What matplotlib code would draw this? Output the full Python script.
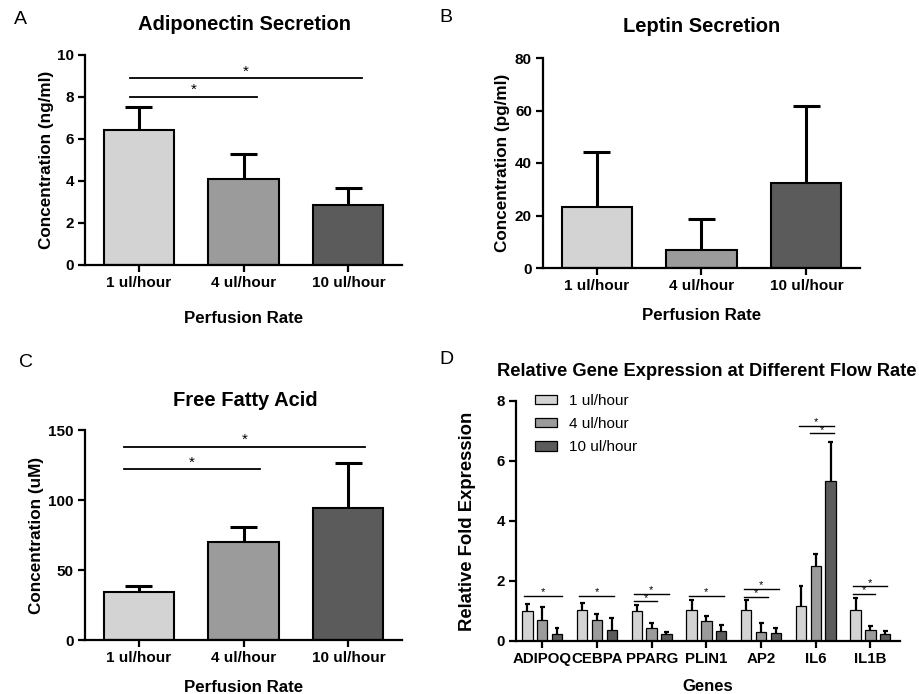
import numpy as np
import matplotlib
matplotlib.use('Agg')
import matplotlib.pyplot as plt

plt.rcParams['font.family'] = ['Liberation Sans', 'DejaVu Sans']

# ---- data ----
rates = ["1 ul/hour", "4 ul/hour", "10 ul/hour"]
colors = ["#d3d3d3", "#9b9b9b", "#5b5b5b"]

adipo_mean = [6.43, 4.08, 2.86]
adipo_err = [1.08, 1.19, 0.79]

leptin_mean = [23.1, 7.0, 32.5]
leptin_err = [21.1, 11.5, 29.4]

ffa_mean = [34.5, 70.2, 94.0]
ffa_err = [4.1, 10.3, 32.7]

genes = ["ADIPOQ", "CEBPA", "PPARG", "PLIN1", "AP2", "IL6", "IL1B"]
gene_1 = [1.00, 1.02, 1.00, 1.02, 1.02, 1.16, 1.02]
gene_1_err = [0.22, 0.25, 0.19, 0.36, 0.34, 0.68, 0.43]
gene_4 = [0.69, 0.69, 0.43, 0.66, 0.30, 2.50, 0.38]
gene_4_err = [0.44, 0.22, 0.17, 0.17, 0.29, 0.39, 0.12]
gene_10 = [0.22, 0.38, 0.22, 0.32, 0.28, 5.34, 0.24]
gene_10_err = [0.21, 0.40, 0.08, 0.20, 0.17, 1.30, 0.08]

# significance brackets: (x0, x1, y)
adipo_sig = [(-0.08, 1.13, 8.02), (-0.08, 2.13, 8.89)]
ffa_sig = [(-0.14, 1.16, 121.9), (-0.14, 2.16, 138.0)]
# gene panel: (gene index, start offset, end offset, y)
gene_sig = [(0, -0.33, 0.36, 1.50), (1, -0.32, 0.32, 1.50),
            (2, -0.32, 0.10, 1.32), (2, -0.32, 0.31, 1.58),
            (3, -0.32, 0.32, 1.50),
            (4, -0.32, 0.12, 1.47), (4, -0.32, 0.32, 1.75),
            (5, -0.11, 0.33, 6.92), (5, -0.31, 0.33, 7.17),
            (6, -0.32, 0.09, 1.58), (6, -0.32, 0.30, 1.82)]

W, H = 920, 694
fig = plt.figure(figsize=(W / 100, H / 100), dpi=100)


def px_axes(left, right, top, bottom):
    return fig.add_axes([left / W, 1 - bottom / H, (right - left) / W, (bottom - top) / H])


def style(ax, size=11, lw=1.6):
    for s in ["top", "right"]:
        ax.spines[s].set_visible(False)
    for s in ["left", "bottom"]:
        ax.spines[s].set_linewidth(lw)
    ax.tick_params(width=lw, length=5, direction='out', labelsize=size, pad=3)
    for t in ax.get_xticklabels() + ax.get_yticklabels():
        t.set_fontweight('bold')


def up_errors(ax, x, means, errs, cap, lw):
    # one-sided (upper) error bars, no cap at the bar top
    tops = np.array(means) + np.array(errs)
    ax.vlines(x, means, tops, color='black', lw=lw, zorder=1)
    ax.hlines(tops, x - cap / 2, x + cap / 2, color='black', lw=lw, zorder=1)


def three_bar(ax, means, errs, ylim, yticks, title, ylabel, tpos, xl_y, yl_x, sig=None):
    x = np.arange(len(rates))
    up_errors(ax, x, means, errs, 0.25, 2.2)
    ax.bar(x, means, width=0.667, color=colors, edgecolor='black', linewidth=1.5, zorder=2)
    ax.set_xlim(-0.51, 2.51)
    ax.set_ylim(*ylim)
    ax.set_yticks(yticks)
    ax.set_xticks(x)
    ax.set_xticklabels(rates)
    fig.text(tpos[0] / W, 1 - tpos[1] / H, title, fontsize=14.5, fontweight='bold',
             ha='center', va='center')
    ax.set_ylabel(ylabel, fontsize=12.3, fontweight='bold')
    ax.yaxis.set_label_coords(yl_x, 0.5)
    ax.set_xlabel("Perfusion Rate", fontsize=12.2, fontweight='bold')
    ax.xaxis.set_label_coords(0.5, xl_y)
    if sig:
        for x0, x1, y in sig:
            ax.plot([x0, x1], [y, y], color='black', lw=1.3, clip_on=False)
            ax.text((x0 + x1) / 2, y, "*", ha='center', va='bottom', fontsize=11)
    style(ax)


axA = px_axes(85, 402, 55, 265)
three_bar(axA, adipo_mean, adipo_err, (0, 10), [0, 2, 4, 6, 8, 10],
          "Adiponectin Secretion", "Concentration (ng/ml)", (245, 24), -0.219, -0.098,
          adipo_sig)

axB = px_axes(543, 860, 58, 268)
three_bar(axB, leptin_mean, leptin_err, (0, 80), [0, 20, 40, 60, 80],
          "Leptin Secretion", "Concentration (pg/ml)", (702, 27), -0.192, -0.103)

axC = px_axes(85, 402, 430, 640)
three_bar(axC, ffa_mean, ffa_err, (0, 150), [0, 50, 100, 150],
          "Free Fatty Acid", "Concentration (uM)", (245, 400), -0.19, -0.129, ffa_sig)

# panel D
axD = px_axes(516, 900, 401, 641)
gx = np.arange(len(genes))
off = 0.27
bw = 0.19
for i, (m, e, lab) in enumerate([(gene_1, gene_1_err, rates[0]),
                                 (gene_4, gene_4_err, rates[1]),
                                 (gene_10, gene_10_err, rates[2])]):
    up_errors(axD, gx + (i - 1) * off, m, e, 0.09, 1.6)
    axD.bar(gx + (i - 1) * off, m, width=bw, color=colors[i], edgecolor='black',
            linewidth=0.9, label=lab, zorder=2)
for g, a, b, y in gene_sig:
    axD.plot([g + a, g + b], [y, y], color='black', lw=1.0)
    axD.text(g + (a + b) / 2, y - 0.05, "*", ha='center', va='bottom', fontsize=8)
axD.set_xlim(-0.48, 6.54)
axD.set_ylim(0, 8)
axD.set_yticks([0, 2, 4, 6, 8])
axD.set_xticks(gx)
axD.set_xticklabels(genes)
fig.text(707 / W, 1 - 372 / H, "Relative Gene Expression at Different Flow Rate",
         fontsize=13.2, fontweight='bold', ha='center', va='center')
axD.set_ylabel("Relative Fold Expression", fontsize=13.3, fontweight='bold')
axD.yaxis.set_label_coords(-0.105, 0.5)
axD.set_xlabel("Genes", fontsize=12, fontweight='bold')
axD.xaxis.set_label_coords(0.5, -0.16)
axD.legend(loc='upper left', bbox_to_anchor=(0.05, 1.03), frameon=False, fontsize=11,
           handlelength=1.4, handleheight=0.6, labelspacing=0.6, handletextpad=0.8,
           borderaxespad=0, borderpad=0)
style(axD, size=10.8)

# panel letters
for lab, x, y in [("A", 20, 20), ("B", 446, 18), ("C", 26, 362), ("D", 446, 360)]:
    fig.text(x / W, 1 - y / H, lab, fontsize=14, ha='center', va='center')

fig.savefig("out.png", dpi=100, facecolor='white')
